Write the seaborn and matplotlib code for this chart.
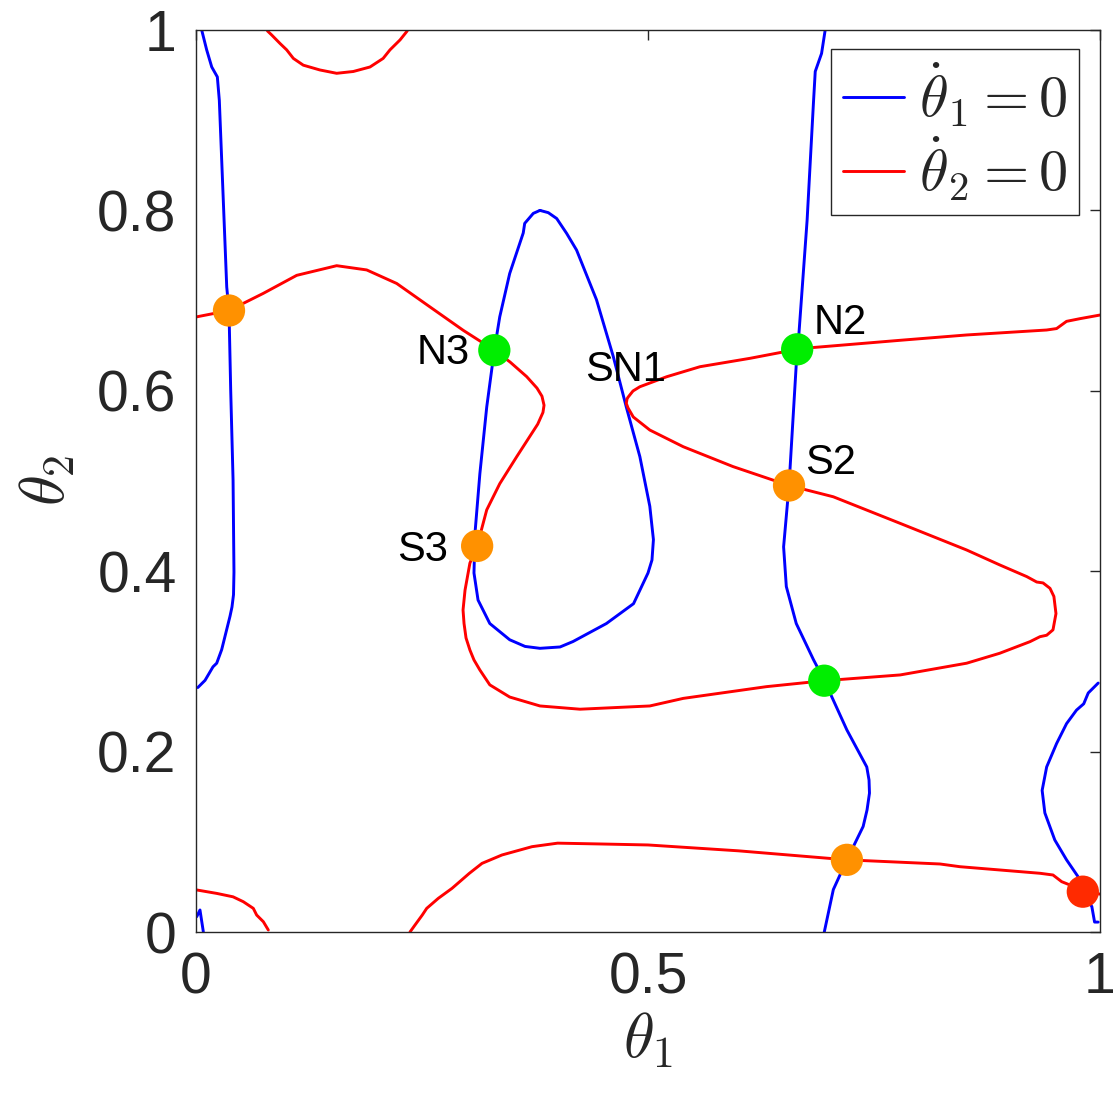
import numpy as np
import pandas as pd
import matplotlib
matplotlib.use("Agg")
import matplotlib.pyplot as plt
from matplotlib.lines import Line2D
import seaborn as sns

# ---------------- data ----------------
# theta1_dot = 0 nullcline pieces (blue)
b_left_x = [0.0063, 0.0118, 0.0174, 0.0236, 0.0258, 0.0302, 0.034, 0.0365, 0.0384, 0.041, 0.042,
            0.0415, 0.0398, 0.0376, 0.0284, 0.0229, 0.0188, 0.010, 0.002]
b_left_y = [1.0, 0.978, 0.959, 0.948, 0.922, 0.811, 0.715, 0.689, 0.600, 0.501, 0.399,
            0.374, 0.3603, 0.350, 0.313, 0.298, 0.294, 0.279, 0.271]

b_corner_x = [0.0008, 0.0044, 0.0081]
b_corner_y = [0.017, 0.0244, 0.0003]

b_right_x = [0.998, 0.987, 0.982, 0.974, 0.963, 0.952, 0.941, 0.936, 0.939, 0.950, 0.963, 0.978,
             0.982, 0.991, 0.994, 0.998]
b_right_y = [0.276, 0.265, 0.253, 0.246, 0.231, 0.209, 0.183, 0.157, 0.132, 0.102, 0.080, 0.058,
             0.045, 0.028, 0.011, 0.011]

b_mid_x = [0.696, 0.692, 0.685, 0.683, 0.676, 0.667, 0.665, 0.656, 0.650, 0.653, 0.664, 0.683,
           0.695, 0.720, 0.742, 0.7445, 0.745, 0.7423, 0.738, 0.720, 0.705, 0.695]
b_mid_y = [1.0, 0.974, 0.954, 0.919, 0.789, 0.664, 0.646, 0.495, 0.427, 0.383, 0.342, 0.302,
           0.279, 0.224, 0.183, 0.1685, 0.154, 0.1353, 0.117, 0.080, 0.047, 0.0]

b_loop_x = [0.3805, 0.3731, 0.3636, 0.362, 0.347, 0.336, 0.330, 0.3216, 0.314, 0.3086, 0.3075,
            0.312, 0.325, 0.347, 0.364, 0.3805, 0.4027, 0.417, 0.454, 0.484, 0.500, 0.5044, 0.506,
            0.502, 0.491, 0.476, 0.4616, 0.443, 0.421, 0.410, 0.399, 0.3897, 0.3805]
b_loop_y = [0.800, 0.7967, 0.7856, 0.775, 0.730, 0.682, 0.645, 0.582, 0.508, 0.442, 0.398,
            0.368, 0.342, 0.324, 0.3166, 0.3145, 0.316, 0.322, 0.342, 0.364, 0.398, 0.4124, 0.435,
            0.472, 0.527, 0.582, 0.638, 0.701, 0.756, 0.7745, 0.791, 0.7975, 0.800]

# theta2_dot = 0 nullcline pieces (red)
r_top_x = [0.079, 0.0837, 0.093, 0.1003, 0.1077, 0.1187, 0.137, 0.1556, 0.174, 0.1925, 0.207,
           0.2146, 0.2257, 0.2337]
r_top_y = [0.999, 0.9945, 0.985, 0.978, 0.9685, 0.961, 0.9557, 0.952, 0.954, 0.959, 0.9685,
           0.978, 0.989, 0.999]

r_botleft_x = [0.0008, 0.0229, 0.041, 0.0523, 0.0634, 0.0671, 0.0745, 0.080]
r_botleft_y = [0.0466, 0.0428, 0.039, 0.0336, 0.0262, 0.0188, 0.0114, 0.0022]

r_bot_x = [0.2367, 0.2423, 0.2503, 0.2552, 0.268, 0.2832, 0.3023, 0.3164, 0.3385, 0.3717, 0.40,
           0.4469, 0.50, 0.60, 0.720, 0.823, 0.845, 0.9336, 0.948, 0.9576, 0.9668, 0.981, 1.0]
r_bot_y = [0.0, 0.0078, 0.0188, 0.0262, 0.0373, 0.0484, 0.065, 0.0761, 0.0854, 0.0946, 0.0985,
           0.0976, 0.0965, 0.090, 0.080, 0.0754, 0.0724, 0.0651, 0.0632, 0.0558, 0.0521, 0.0455,
           0.042]

r_main_x = [0.0008, 0.0365, 0.0744, 0.1114, 0.1556, 0.1888, 0.222, 0.2588, 0.2957, 0.330, 0.3473,
            0.3658, 0.3772, 0.3827, 0.385, 0.3838, 0.378, 0.3548, 0.336, 0.3216, 0.311, 0.303,
            0.2976, 0.2954, 0.2965, 0.2987, 0.303, 0.3075, 0.314, 0.325, 0.347, 0.3805, 0.4248,
            0.502, 0.539, 0.631, 0.695, 0.779, 0.8525, 0.889, 0.9226, 0.9336, 0.941, 0.948, 0.9513,
            0.949, 0.9447, 0.937, 0.930, 0.919, 0.889, 0.8525, 0.779, 0.705, 0.656, 0.594, 0.539,
            0.502, 0.4837, 0.4779, 0.476, 0.4768, 0.478, 0.4834, 0.491, 0.5207, 0.5575, 0.6128,
            0.665, 0.683, 0.779, 0.8525, 0.941, 0.952, 0.963, 0.978, 1.0]
r_main_y = [0.682, 0.689, 0.708, 0.728, 0.7387, 0.734, 0.719, 0.693, 0.667, 0.645, 0.632,
            0.6157, 0.603, 0.594, 0.584, 0.576, 0.563, 0.527, 0.497, 0.468, 0.428, 0.409,
            0.379, 0.357, 0.342, 0.326, 0.3126, 0.3016, 0.2905, 0.274, 0.2605, 0.2506, 0.247,
            0.2506, 0.259, 0.272, 0.2786, 0.285, 0.298, 0.309, 0.3219, 0.3274, 0.329, 0.335, 0.353,
            0.372, 0.381, 0.387, 0.388, 0.394, 0.407, 0.4235, 0.453, 0.4825, 0.495, 0.516, 0.538,
            0.5565, 0.571, 0.581, 0.586, 0.591, 0.593, 0.5998, 0.6045, 0.6156, 0.6267, 0.636,
            0.646, 0.648, 0.656, 0.6619, 0.6674, 0.669, 0.677, 0.680, 0.684]

# equilibria
saddle_x = [0.0365, 0.311, 0.656, 0.720]
saddle_y = [0.689, 0.428, 0.495, 0.080]
node_x = [0.330, 0.665, 0.695]
node_y = [0.645, 0.646, 0.2786]
unstable_x = [0.981]
unstable_y = [0.0447]

point_labels = ["N3", "SN1", "N2", "S2", "S3"]
label_x = [0.303, 0.430, 0.683, 0.674, 0.279]
label_y = [0.642, 0.623, 0.675, 0.520, 0.4235]
label_ha = ["right", "left", "left", "left", "right"]

xticks = [0, 0.5, 1]
xtick_labels = ["0", "0.5", "1"]
yticks = [0, 0.2, 0.4, 0.6, 0.8, 1]
ytick_labels = ["0", "0.2", "0.4", "0.6", "0.8", "1"]

# ---------------- styling ----------------
sns.set_style("white")
plt.rcParams["font.family"] = ["Liberation Sans", "DejaVu Sans"]
plt.rcParams["mathtext.fontset"] = "cm"

BLUE = "#0000FF"
RED = "#FF0000"
ORANGE = "#FF9100"
GREEN = "#00EE00"
DOTRED = "#FF2A00"
DARK = "#262626"

fig = plt.figure(figsize=(11.14, 11.0), dpi=100)
ax = fig.add_axes([196 / 1114, (1100 - 932) / 1100, 904 / 1114, 902 / 1100])

def draw(xs, ys, color):
    df = pd.DataFrame({"x": xs, "y": ys})
    line_ax = sns.lineplot(data=df, x="x", y="y", sort=False, estimator=None, color=color,
                           linewidth=2.1, ax=ax, legend=False)
    line_ax.lines[-1].set_solid_joinstyle("round")
    line_ax.lines[-1].set_solid_capstyle("round")

for xs, ys in [(b_left_x, b_left_y), (b_corner_x, b_corner_y), (b_right_x, b_right_y),
               (b_mid_x, b_mid_y), (b_loop_x, b_loop_y)]:
    draw(xs, ys, BLUE)
for xs, ys in [(r_top_x, r_top_y), (r_botleft_x, r_botleft_y), (r_bot_x, r_bot_y),
               (r_main_x, r_main_y)]:
    draw(xs, ys, RED)

for xs, ys, c in [(saddle_x, saddle_y, ORANGE), (node_x, node_y, GREEN),
                  (unstable_x, unstable_y, DOTRED)]:
    sns.scatterplot(x=xs, y=ys, color=c, s=540, edgecolor="none", ax=ax, zorder=5,
                    clip_on=False, legend=False)

for t, x, y, ha in zip(point_labels, label_x, label_y, label_ha):
    ax.text(x, y, t, ha=ha, va="center", fontsize=30, color="black", zorder=6)

ax.set_xlim(0, 1)
ax.set_ylim(0, 1)
ax.set_xticks(xticks)
ax.set_xticklabels(xtick_labels)
ax.set_yticks(yticks)
ax.set_yticklabels(ytick_labels)
ax.tick_params(direction="in", length=7, width=1.0, top=True, right=True,
               labelsize=41, colors=DARK, pad=14)
for sp in ax.spines.values():
    sp.set_color(DARK)
    sp.set_linewidth(1.0)

ax.set_xlabel(r"$\theta_{\mathsf{1}}$", fontsize=45, color=DARK, labelpad=4)
ax.set_ylabel(r"$\theta_{\mathsf{2}}$", fontsize=45, color=DARK, labelpad=14)

handles = [Line2D([], [], color=BLUE, linewidth=2.1), Line2D([], [], color=RED, linewidth=2.1)]
leg = ax.legend(handles, [r"$\dot{\theta}_1 = 0$", r"$\dot{\theta}_2 = 0$"],
                loc="upper right", bbox_to_anchor=(0.977, 0.9786), borderaxespad=0,
                fontsize=42, frameon=True, fancybox=False, framealpha=1,
                handlelength=1.05, handletextpad=0.25, labelspacing=0.1,
                borderpad=0.2)
leg.get_frame().set_edgecolor(DARK)
leg.get_frame().set_linewidth(1.0)

fig.savefig("out.png", dpi=100)
